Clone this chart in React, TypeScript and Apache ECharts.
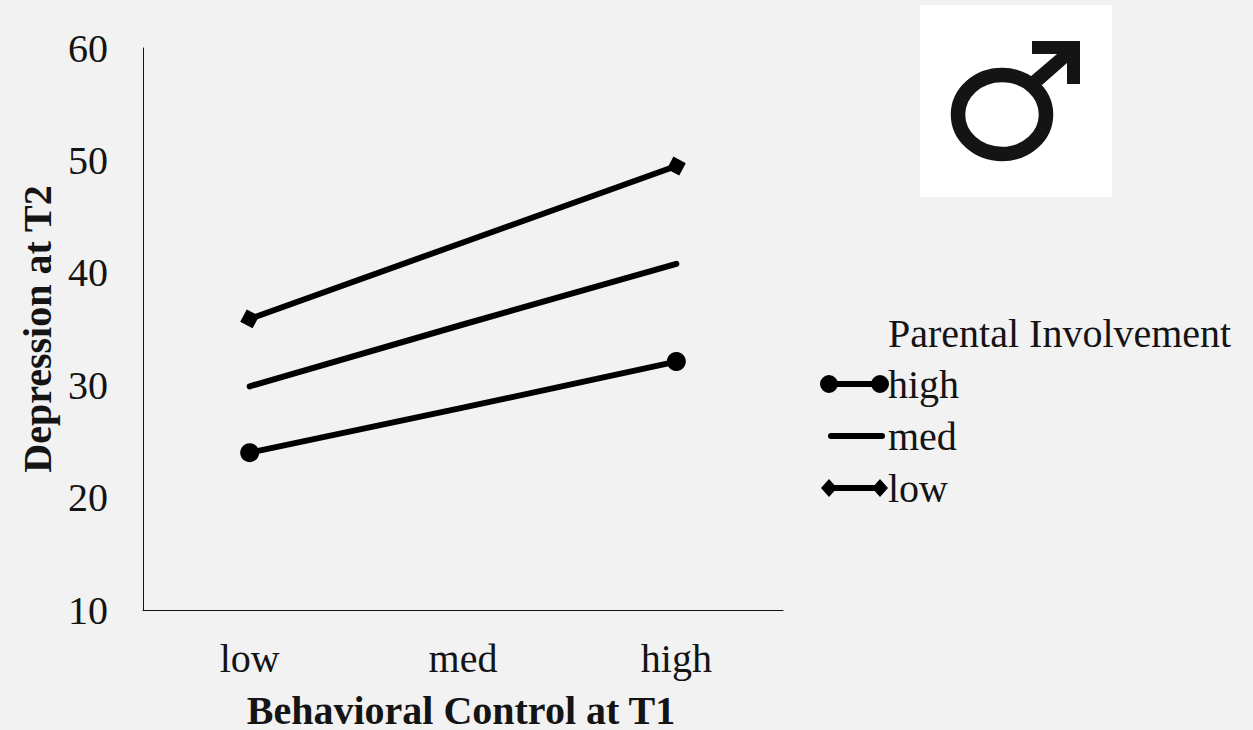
import React, { useEffect, useRef } from "react";
import * as echarts from "echarts";

const categories = ["low", "med", "high"];
const highValues = [24, 28, 32.1];
const medValues = [29.9, 35.4, 40.8];
const lowValues = [35.9, 42.7, 49.5];
const seriesNames = ["high", "med", "low"];
const yTicks = { min: 10, max: 60, interval: 10 };
const xTitle = "Behavioral Control at T1";
const yTitle = "Depression at T2";
const legendTitle = "Parental Involvement";

const FONT = '"Liberation Serif", "Times New Roman", serif';
const INK = "#141414";

const circleAt = (cx: number) => `M${cx - 9} 9a9 9 0 1 1 18 0a9 9 0 1 1 -18 0Z`;
const diamondAt = (cx: number) => `M${cx - 8} 9L${cx} 0L${cx + 8} 9L${cx} 18Z`;
const extents = "M0 0L0 0ZM69 18L69 18Z";
const iconHigh = `path://${extents}${circleAt(9)}${circleAt(60)}M15 6H54V12H15Z`;
const iconMed = `path://${extents}M11 6H62A3 3 0 0 1 62 12H11A3 3 0 0 1 11 6Z`;
const iconLow = `path://${extents}${diamondAt(9)}${diamondAt(60)}M14 6H55V12H14Z`;

export default function App() {
  const ref = useRef<HTMLDivElement>(null);
  useEffect(() => {
    document.body.style.margin = "0";
    const chart = echarts.init(ref.current!, null, { renderer: "svg" });
    const endSymbol = (shape: string) => (_v: unknown, p: any) => (p.dataIndex === 1 ? "none" : shape);
    const line = (name: string, data: number[], symbol: any, size: number, rotate = 0) => ({
      name,
      type: "line",
      data,
      symbol,
      symbolSize: size,
      symbolRotate: rotate,
      showAllSymbol: true,
      lineStyle: { color: "#000", width: 6, cap: "round" },
      itemStyle: { color: "#000", borderWidth: 0 },
      emphasis: { disabled: true },
    });
    chart.setOption({
      animation: false,
      backgroundColor: "#f2f2f2",
      textStyle: { fontFamily: FONT },
      grid: { left: 143, top: 48, width: 640, height: 562, outerBoundsMode: "none" },
      xAxis: {
        type: "category",
        data: categories,
        boundaryGap: true,
        axisLine: { show: true, lineStyle: { color: INK, width: 1 } },
        axisTick: { show: false },
        axisLabel: { fontFamily: FONT, fontSize: 40, color: INK, margin: 28 },
        name: xTitle,
        nameLocation: "middle",
        nameGap: 82,
        nameTextStyle: { fontFamily: FONT, fontSize: 40, lineHeight: 36, fontWeight: "bold", color: INK, padding: [0, 4, 0, 0] },
      },
      yAxis: {
        type: "value",
        min: yTicks.min,
        max: yTicks.max,
        interval: yTicks.interval,
        splitLine: { show: false },
        axisLine: { show: true, lineStyle: { color: INK, width: 1 } },
        axisTick: { show: false },
        axisLabel: { fontFamily: FONT, fontSize: 40, color: INK, margin: 35 },
        name: yTitle,
        nameLocation: "middle",
        nameGap: 86,
        nameTextStyle: { fontFamily: FONT, fontSize: 40, fontWeight: "bold", color: INK },
      },
      legend: {
        left: 815,
        top: 359,
        orient: "vertical",
        itemWidth: 69,
        itemHeight: 18,
        itemGap: 12,
        selectedMode: false,
        textStyle: { fontFamily: FONT, fontSize: 40, color: INK, padding: [0, 0, 0, -6] },
        itemStyle: { borderWidth: 0 },
        lineStyle: { width: 0 },
        data: [
          { name: seriesNames[0], icon: iconHigh },
          { name: seriesNames[1], icon: iconMed },
          { name: seriesNames[2], icon: iconLow },
        ],
      },
      graphic: [
        { type: "rect", left: 920, top: 5, shape: { width: 192, height: 192 }, style: { fill: "#fff" } },
        {
          type: "ellipse",
          shape: { cx: 1002, cy: 114.5, rx: 44, ry: 39.5 },
          style: { fill: "none", stroke: INK, lineWidth: 14.5 },
        },
        {
          type: "polygon",
          shape: { points: [[1032, 41], [1080, 41], [1080, 84], [1067, 84], [1067, 63], [1042, 85], [1030, 77], [1057, 54], [1032, 54]] },
          style: { fill: INK },
        },
        {
          type: "text",
          x: 888,
          y: 333,
          style: { text: legendTitle, font: `40px ${FONT}`, fill: INK, verticalAlign: "middle" },
        },
      ],
      series: [
        line(seriesNames[0], highValues, endSymbol("circle"), 19),
        line(seriesNames[1], medValues, "none", 0),
        line(seriesNames[2], lowValues, endSymbol("rect"), 14, -28),
      ],
    });
    return () => chart.dispose();
  }, []);
  return <div ref={ref} style={{ width: 1253, height: 730 }} />;
}
